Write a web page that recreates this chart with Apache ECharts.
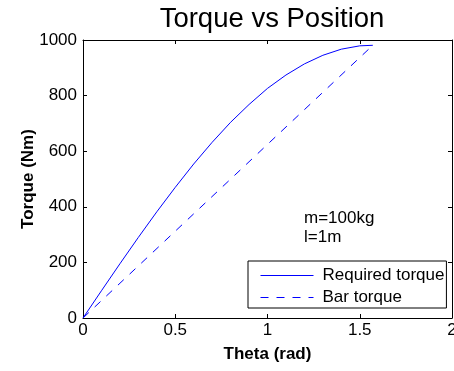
<!DOCTYPE html>
<html>
<head>
<meta charset="utf-8">
<script src="https://cdn.jsdelivr.net/npm/echarts@6/dist/echarts.min.js"></script>
<style>
  html, body { margin: 0; padding: 0; background: #fff; }
  #chart { width: 454px; height: 371px; }
</style>
</head>
<body>
<div id="chart"></div>
<script>
// theta (rad) and torque (Nm)
const theta = [0, 0.1, 0.2, 0.3, 0.4, 0.5, 0.6, 0.7, 0.8, 0.9, 1.0, 1.1, 1.2, 1.3, 1.4, 1.5, 1.5708];
const requiredTorque = [0, 98, 195, 290, 382, 470, 554, 632, 704, 768, 826, 874, 914, 945, 967, 979, 981];
const barTheta = [0, 1.5708];
const barTorque = [0, 981];
const xTicks = [0, 0.5, 1, 1.5, 2];
const yTicks = [0, 200, 400, 600, 800, 1000];
const notes = ['m=100kg', 'l=1m'];

const FONT = 'Liberation Sans, Arial, Helvetica, sans-serif';
const BLUE = '#0000ff';

const pairs = (xs, ys) => xs.map((x, i) => [x, ys[i]]);
const tick = () => ({ show: true, inside: true, length: 4, lineStyle: { color: '#000', width: 1 } });
const line = () => ({ show: true, onZero: false, lineStyle: { color: '#000', width: 1 } });

const chart = echarts.init(document.getElementById('chart'));

chart.setOption({
  backgroundColor: '#fff',
  animation: false,
  title: {
    text: 'Torque vs Position',
    left: 267, top: 0, textAlign: 'center',
    textStyle: { fontFamily: FONT, fontSize: 27.5, fontWeight: 'normal', color: '#000' }
  },
  grid: { left: 83, right: 2, top: 40, bottom: 53, outerBoundsMode: 'none', containLabel: false },
  xAxis: [{
    type: 'value', position: 'bottom', min: xTicks[0], max: xTicks[xTicks.length - 1], interval: 0.5,
    name: 'Theta (rad)', nameLocation: 'middle', nameGap: 28, nameMoveOverlap: false,
    nameTextStyle: { fontFamily: FONT, fontSize: 17, fontWeight: 'bold', color: '#000' },
    axisLine: line(),
    axisTick: tick(),
    axisLabel: { fontFamily: FONT, fontSize: 17, color: '#000', margin: 4, showMaxLabel: true, formatter: v => String(v) },
    splitLine: { show: false }
  }, {
    type: 'value', position: 'top', min: xTicks[0], max: xTicks[xTicks.length - 1], interval: 0.5,
    axisLine: line(), axisTick: tick(), axisLabel: { show: false }, splitLine: { show: false }
  }],
  yAxis: [{
    type: 'value', position: 'left', min: yTicks[0], max: yTicks[yTicks.length - 1], interval: 200,
    name: 'Torque (Nm)', nameLocation: 'middle', nameGap: 46, nameRotate: 90, nameMoveOverlap: false,
    nameTextStyle: { fontFamily: FONT, fontSize: 17, fontWeight: 'bold', color: '#000' },
    axisLine: line(),
    axisTick: tick(),
    axisLabel: { fontFamily: FONT, fontSize: 17, color: '#000', margin: 6, formatter: v => String(v) },
    splitLine: { show: false }
  }, {
    type: 'value', position: 'right', min: yTicks[0], max: yTicks[yTicks.length - 1], interval: 200,
    axisLine: line(), axisTick: tick(), axisLabel: { show: false }, splitLine: { show: false }
  }],
  legend: {
    orient: 'vertical', left: 248, top: 261,
    padding: [6, 2, 2, 12], itemGap: 5, itemWidth: 53, itemHeight: 17,
    backgroundColor: '#fff', borderColor: '#000', borderWidth: 1, borderRadius: 0,
    itemStyle: { opacity: 0 },
    lineStyle: { width: 1 },
    textStyle: { fontFamily: FONT, fontSize: 17, color: '#000', padding: [0, 0, 0, 4] },
    data: ['Required torque', 'Bar torque']
  },
  graphic: notes.map((t, i) => ({
    type: 'text', left: 304, top: 210 + i * 19,
    style: { text: t, font: '17px ' + FONT, fill: '#000' }
  })),
  series: [{
    name: 'Required torque', type: 'line', symbol: 'none', xAxisIndex: 0, yAxisIndex: 0,
    data: pairs(theta, requiredTorque),
    lineStyle: { color: BLUE, width: 1 }, itemStyle: { color: BLUE }
  }, {
    name: 'Bar torque', type: 'line', symbol: 'none', xAxisIndex: 0, yAxisIndex: 0,
    data: pairs(barTheta, barTorque),
    lineStyle: { color: BLUE, width: 1, type: [8, 8] }, itemStyle: { color: BLUE }
  }]
});
</script>
</body>
</html>
